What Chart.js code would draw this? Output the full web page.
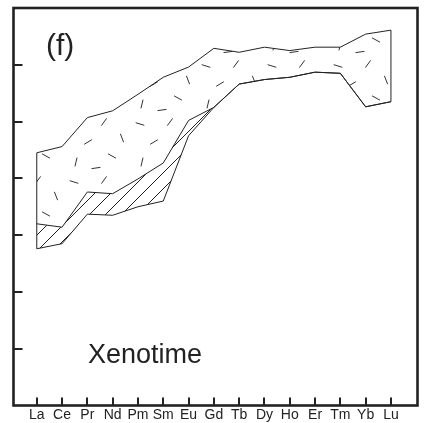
<!DOCTYPE html>
<html>
<head>
<meta charset="utf-8">
<script src="https://cdn.jsdelivr.net/npm/chart.js@4/dist/chart.umd.min.js"></script>
<style>
  body { margin: 0; background: #fff; }
  #wrap { width: 424px; height: 423px; }
</style>
</head>
<body>
<div id="wrap"><canvas id="myChart" width="424" height="423"></canvas></div>
<script>
// REE normalized pattern, values in log units
const elements = ['La', 'Ce', 'Pr', 'Nd', 'Pm', 'Sm', 'Eu', 'Gd', 'Tb', 'Dy', 'Ho', 'Er', 'Tm', 'Yb', 'Lu'];
const upperTop = [4.45, 4.56, 5.07, 5.19, 5.48, 5.78, 5.96, 6.29, 6.22, 6.31, 6.25, 6.31, 6.31, 6.54, 6.61];
// lower edge of the dashed field, also the top of the hatched band
const upperBottom = [3.20, 3.14, 3.76, 3.73, 3.99, 4.27, 5.02, 5.25, 5.66, 5.74, 5.78, 5.87, 5.85, 5.26, 5.35];
// lower edge of the hatched band (La..Gd)
const hatchBottom = [2.76, 2.85, 3.37, 3.35, 3.50, 3.60, 4.75, 5.25];
const yTicks = [1, 2, 3, 4, 5, 6];

const ink = '#222';

// little dashes pattern for the upper field
function dashPattern() {
    const c = document.createElement('canvas');
    c.width = 66; c.height = 58;
    const g = c.getContext('2d');
    g.strokeStyle = '#333';
    g.lineWidth = 1;
    const marks = [[8, 8, 0.3], [38, 6, 2.2], [56, 22, 1.2], [22, 26, 2.6], [46, 40, 0.5],
                   [10, 46, 1.8], [30, 52, 3.0]];
    marks.forEach(m => {
        const dx = Math.cos(m[2]) * 4.5, dy = Math.sin(m[2]) * 4.5;
        g.beginPath();
        g.moveTo(m[0] - dx, m[1] - dy);
        g.lineTo(m[0] + dx, m[1] + dy);
        g.stroke();
    });
    return g.createPattern(c, 'repeat');
}

// diagonal hatching for the band
function hatchPattern() {
    const s = 16;
    const c = document.createElement('canvas');
    c.width = s; c.height = s;
    const g = c.getContext('2d');
    g.strokeStyle = '#222';
    g.lineWidth = 1;
    g.beginPath();
    g.moveTo(-1, s + 1); g.lineTo(s + 1, -1);
    g.moveTo(-1, 1); g.lineTo(1, -1);
    g.moveTo(s - 1, s + 1); g.lineTo(s + 1, s - 1);
    g.stroke();
    return g.createPattern(c, 'repeat');
}

const toPts = arr => arr.map((v, i) => ({ x: i, y: v }));
const lowLine = hatchBottom.concat(upperBottom.slice(hatchBottom.length));

// frame, inward ticks, closing edges and the labels
const decor = {
    id: 'decor',
    afterDatasetsDraw(chart) {
        const g = chart.ctx;
        const xs = chart.scales.x, ys = chart.scales.y;
        const a = chart.chartArea;
        g.save();
        g.strokeStyle = ink;
        g.lineWidth = 1;
        g.beginPath();
        g.moveTo(xs.getPixelForValue(0), ys.getPixelForValue(upperTop[0]));
        g.lineTo(xs.getPixelForValue(0), ys.getPixelForValue(hatchBottom[0]));
        const last = elements.length - 1;
        g.moveTo(xs.getPixelForValue(last), ys.getPixelForValue(upperTop[last]));
        g.lineTo(xs.getPixelForValue(last), ys.getPixelForValue(upperBottom[last]));
        g.stroke();

        g.lineWidth = 2;
        g.beginPath();
        elements.forEach((e, i) => {
            const px = Math.round(xs.getPixelForValue(i));
            g.moveTo(px, a.bottom);
            g.lineTo(px, a.bottom - 8);
        });
        yTicks.forEach(v => {
            const py = Math.round(ys.getPixelForValue(v));
            g.moveTo(a.left, py);
            g.lineTo(a.left + 9, py);
        });
        g.stroke();

        g.lineWidth = 2.6;
        g.strokeRect(a.left, a.top, a.right - a.left, a.bottom - a.top);

        g.fillStyle = ink;
        g.font = '30px "Liberation Sans", Arial, sans-serif';
        g.fillText('(f)', 46, 55);
        g.font = '27px "Liberation Sans", Arial, sans-serif';
        g.fillText('Xenotime', 88, 363);
        g.restore();
    }
};

const ctx = document.getElementById('myChart');
new Chart(ctx, {
    type: 'line',
    data: {
        datasets: [{
            data: toPts(lowLine),
            borderColor: ink,
            borderWidth: 1,
            pointRadius: 0,
            fill: false
        }, {
            data: toPts(upperBottom),
            borderColor: ink,
            borderWidth: 1,
            pointRadius: 0,
            fill: { target: 0 },
            backgroundColor: hatchPattern()
        }, {
            data: toPts(upperTop),
            borderColor: ink,
            borderWidth: 1,
            pointRadius: 0,
            fill: { target: 1 },
            backgroundColor: dashPattern()
        }]
    },
    options: {
        responsive: false,
        animation: false,
        layout: { padding: { left: 13.5, right: 6.5, top: 8, bottom: -1.5 } },
        plugins: { legend: { display: false }, tooltip: { enabled: false } },
        scales: {
            x: {
                type: 'linear',
                min: -0.92,
                max: 15.05,
                afterBuildTicks: scale => { scale.ticks = elements.map((e, i) => ({ value: i })); },
                ticks: {
                    autoSkip: false,
                    maxRotation: 0,
                    padding: 2.5,
                    color: ink,
                    font: { family: '"Liberation Sans", Arial, sans-serif', size: 14, lineHeight: 1 },
                    callback: v => elements[v]
                },
                grid: { display: false, drawTicks: false },
                border: { display: false }
            },
            y: {
                display: false,
                min: 0,
                max: 7
            }
        }
    },
    plugins: [decor]
});
</script>
</body>
</html>
